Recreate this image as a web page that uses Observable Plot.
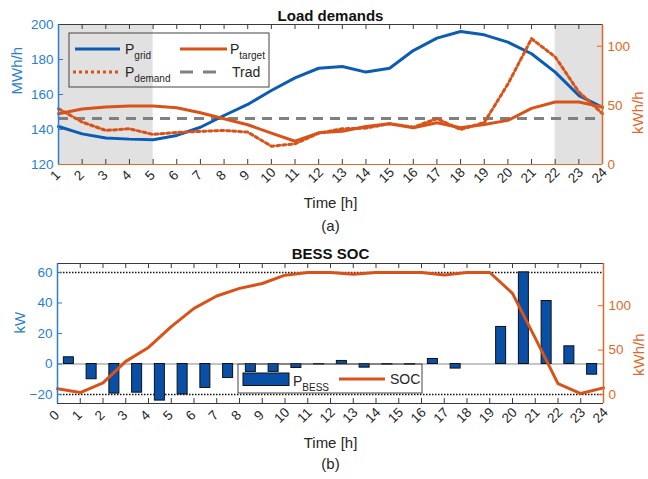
<!DOCTYPE html>
<html><head><meta charset="utf-8">
<script src="https://cdn.jsdelivr.net/npm/d3@7"></script>
<script src="https://cdn.jsdelivr.net/npm/@observablehq/plot@0.6"></script>
<style>
body{margin:0;background:#fff;}
#wrap{position:relative;width:648px;height:479px;overflow:hidden;background:#fff;}
#wrap svg{position:absolute;left:0;overflow:visible;}
</style></head><body><div id="wrap"></div>
<script>
// ---------- Panel (a): Load demands ----------
const hoursA = [1,2,3,4,5,6,7,8,9,10,11,12,13,14,15,16,17,18,19,20,21,22,23,24];
const pGrid = [141.7,137.5,135.2,134.5,134.1,136.6,141.3,148,154.3,162.3,169.5,175,176,172.8,175,185.1,192.2,196,194.1,189.9,183.3,172.8,159.4,152.7]; // MWh/h (left)
const pTarget = [43,46.9,48.6,49.4,49.4,48,43.8,38.7,33.6,26.5,19.7,26.8,28.2,32.2,34.5,31.1,35.3,31.1,33.9,37.3,47.5,52.8,52.8,48.5]; // kWh/h (right)
const pDemand = [47.2,35.9,28.8,30.2,25.4,27.1,28,28.8,27.4,15.5,17.5,26.5,30.2,30.8,34.5,31.6,38.7,29.6,35.5,68,106.4,91,61.3,43]; // kWh/h (right)
const tradLevel = 146.3; // MWh/h
const shadedPeriods = [[1,5],[22,24]];
const leftTicksA = [120,140,160,180,200];
const rightTicksA = [0,50,100];
const leftDomainA = [120,200];
const rightDomainA = [0,118.4];

// ---------- Panel (b): BESS SOC ----------
const hoursB = [0,1,2,3,4,5,6,7,8,9,10,11,12,13,14,15,16,17,18,19,20,21,22,23];
const pBess = [4.4,-10,-19.4,-18.8,-24,-20,-15.7,-9.2,-5.2,-5.2,-2.6,-0.3,2,-2.4,-0.4,-0.4,3.3,-3,0,24.3,60.1,41.3,11.6,-7]; // kW (left)
const socHours = [0,1,2,3,4,5,6,7,8,9,10,11,12,13,14,15,16,17,18,19,20,21,22,23,24];
const soc = [6.4,2.2,13.1,37.3,53,76.5,97,110.9,119.5,125,134.4,137.4,137.4,135.5,137.4,137.4,137.4,134.6,137.4,137.4,113.9,63.5,12.3,1.1,7.5]; // kWh/h (right)
const bessLimits = [60,-20];
const leftTicksB = [-20,0,20,40,60];
const rightTicksB = [0,50,100];
const xTicksB = [0,1,2,3,4,5,6,7,8,9,10,11,12,13,14,15,16,17,18,19,20,21,22,23,24];
const leftDomainB = [-25.9,65.9];
const rightRefB = [0,137.4]; // right values aligned with left -20 and 60

// ---------- styling ----------
const font = '"Liberation Sans", Arial, Helvetica, sans-serif';
const blueLine = "#0c5cb4", barBlue = "#0a4fa6", orange = "#d95319";
const axBlue = "#2a7fd0", axOrange = "#e2672a", tickC = "#3a3a3a", txt = "#262626";

// right -> left axis mapping
const rA = v => leftDomainA[0] + (v - rightDomainA[0]) * (leftDomainA[1]-leftDomainA[0])/(rightDomainA[1]-rightDomainA[0]);
const rAinv = y => rightDomainA[0] + (y - leftDomainA[0]) * (rightDomainA[1]-rightDomainA[0])/(leftDomainA[1]-leftDomainA[0]);
const rB = v => -20 + (v - rightRefB[0]) * 80/(rightRefB[1]-rightRefB[0]);
const rBinv = y => rightRefB[0] + (y + 20) * (rightRefB[1]-rightRefB[0])/80;

const wrap = document.getElementById("wrap");

// ===== Panel A =====
const mA = {top:24, bottom:71, left:58, right:46};
const hA = 235, fhA = hA - mA.top - mA.bottom, fwA = 648 - mA.left - mA.right;
const dataA = hoursA.map((h,i) => ({h, grid:pGrid[i], target:rA(pTarget[i]), demand:rA(pDemand[i])}));

const plotA = Plot.plot({
  width:648, height:hA, marginTop:mA.top, marginBottom:mA.bottom, marginLeft:mA.left, marginRight:mA.right,
  x:{domain:[1,24], axis:null}, y:{domain:leftDomainA, axis:null},
  style:{fontFamily:font, fontSize:"13.5px", overflow:"visible", background:"transparent", color:txt},
  marks:[
    Plot.rect(shadedPeriods, {x1:d=>d[0], x2:d=>d[1], fill:"#e1e1e1"}),
    Plot.ruleY([tradLevel], {stroke:"#808080", strokeWidth:3, strokeDasharray:"10,7"}),
    Plot.line(dataA, {x:"h", y:"grid", stroke:blueLine, strokeWidth:3, curve:"linear"}),
    Plot.line(dataA, {x:"h", y:"target", stroke:orange, strokeWidth:3}),
    Plot.line(dataA, {x:"h", y:"demand", stroke:orange, strokeWidth:3, strokeDasharray:"3,3"}),
    // ticks (inward)
    Plot.tickX(hoursA, {x:d=>d, insetTop:fhA-5, stroke:tickC}),
    Plot.tickX(hoursA, {x:d=>d, insetBottom:fhA-5, stroke:tickC}),
    Plot.tickY(leftTicksA, {y:d=>d, insetRight:fwA-5, stroke:axBlue}),
    Plot.tickY(rightTicksA.map(rA), {y:d=>d, insetLeft:fwA-5, stroke:axOrange}),
    // frame
    Plot.ruleY([leftDomainA[1]], {stroke:tickC}),
    Plot.ruleY([leftDomainA[0]], {stroke:axOrange}),
    Plot.ruleX([1], {stroke:axBlue, strokeWidth:1.5}),
    Plot.ruleX([24], {stroke:axOrange, strokeWidth:1.5}),
    // axes
    Plot.axisY(leftTicksA, {anchor:"left", tickSize:0, tickPadding:5, color:axBlue, label:null}),
    Plot.axisY(rightTicksA.map(rA), {anchor:"right", tickSize:0, tickPadding:5, color:axOrange, label:null, tickFormat:d=>String(Math.round(rAinv(d)))}),
    Plot.text(hoursA, {x:d=>d, frameAnchor:"bottom", dy:14, rotate:-45, text:d=>String(d), fill:txt}),
    Plot.text(["MWh/h"], {frameAnchor:"left", dx:-41, rotate:-90, text:d=>d, fill:axBlue, fontSize:15}),
    Plot.text(["kWh/h"], {frameAnchor:"right", dx:36, dy:-3, rotate:-90, text:d=>d, fill:axOrange, fontSize:15}),
    Plot.text(["Load demands"], {frameAnchor:"top", dy:-14, text:d=>d, fontWeight:"bold", fontSize:15, fill:"#111"}),
    Plot.text(["Time [h]"], {frameAnchor:"bottom", dy:43, text:d=>d, fontSize:15, fill:txt}),
    Plot.text(["(a)"], {frameAnchor:"bottom", dy:66, text:d=>d, fontSize:15, fill:txt})
  ]
});
plotA.style.top = "0px";
wrap.appendChild(plotA);

// legend A
{
  const g = d3.select(plotA).append("g").attr("font-family", font).attr("fill", txt).attr("text-anchor","start");
  g.append("rect").attr("x",69).attr("y",33).attr("width",200).attr("height",54).attr("fill","none").attr("stroke","#444");
  const items = [
    {y:49, x0:75, x1:120, stroke:blueLine, dash:null, tx:125, main:"P", sub:"grid"},
    {y:49, x0:180, x1:227, stroke:orange, dash:null, tx:230, main:"P", sub:"target"},
    {y:72, x0:73, x1:118, stroke:orange, dash:"3,3", tx:125, main:"P", sub:"demand"},
    {y:72, x0:180, x1:217, stroke:"#808080", dash:"13,10", tx:232, main:"Trad", sub:null}
  ];
  for (const it of items) {
    g.append("line").attr("x1",it.x0).attr("x2",it.x1).attr("y1",it.y).attr("y2",it.y)
      .attr("stroke",it.stroke).attr("stroke-width",3).attr("stroke-dasharray",it.dash);
    const t = g.append("text").attr("x",it.tx).attr("y",it.y+4.5).attr("font-size",14).attr("text-anchor","start");
    t.append("tspan").text(it.main);
    if (it.sub) t.append("tspan").attr("dy",5).attr("font-size",10).text(it.sub);
  }
}

// ===== Panel B =====
const topB = 235;
const mB = {top:28, bottom:76, left:57, right:45};
const hB = 479 - topB, fhB = hB - mB.top - mB.bottom, fwB = 648 - mB.left - mB.right;
const barsB = hoursB.map((h,i) => ({h, v:pBess[i]}));
const socData = socHours.map((h,i) => ({h, s:rB(soc[i])}));

const plotB = Plot.plot({
  width:648, height:hB, marginTop:mB.top, marginBottom:mB.bottom, marginLeft:mB.left, marginRight:mB.right,
  x:{domain:[0,24], axis:null}, y:{domain:leftDomainB, axis:null},
  style:{fontFamily:font, fontSize:"13.5px", overflow:"visible", background:"transparent", color:txt},
  marks:[
    Plot.ruleY([0], {stroke:"#8a8a8a", strokeWidth:1.2}),
    Plot.ruleY(bessLimits, {stroke:"#111", strokeWidth:1.3, strokeDasharray:"1.5,1.5"}),
    Plot.rectY(barsB, {x1:d=>d.h+0.28, x2:d=>d.h+0.72, y1:0, y2:"v", fill:barBlue, stroke:"#111", strokeWidth:1}),
    Plot.line(socData, {x:"h", y:"s", stroke:orange, strokeWidth:3}),
    Plot.tickX(xTicksB, {x:d=>d, insetTop:fhB-5, stroke:tickC}),
    Plot.tickX(xTicksB, {x:d=>d, insetBottom:fhB-5, stroke:tickC}),
    Plot.tickY(leftTicksB, {y:d=>d, insetRight:fwB-5, stroke:axBlue}),
    Plot.tickY(rightTicksB.map(rB), {y:d=>d, insetLeft:fwB-5, stroke:axOrange}),
    Plot.ruleY([leftDomainB[1]], {stroke:tickC}),
    Plot.ruleY([leftDomainB[0]], {stroke:tickC}),
    Plot.ruleX([0], {stroke:axBlue, strokeWidth:1.5}),
    Plot.ruleX([24], {stroke:axOrange, strokeWidth:1.5}),
    Plot.axisY(leftTicksB, {anchor:"left", tickSize:0, tickPadding:5, color:axBlue, label:null}),
    Plot.axisY(rightTicksB.map(rB), {anchor:"right", tickSize:0, tickPadding:5, color:axOrange, label:null, tickFormat:d=>String(Math.round(rBinv(d)))}),
    Plot.text(xTicksB, {x:d=>d, frameAnchor:"bottom", dy:15, rotate:-45, text:d=>String(d), fill:txt}),
    Plot.text(["kW"], {frameAnchor:"left", dx:-37, rotate:-90, text:d=>d, fill:axBlue, fontSize:15}),
    Plot.text(["kWh/h"], {frameAnchor:"right", dx:36, rotate:-90, text:d=>d, fill:axOrange, fontSize:15}),
    Plot.text(["BESS SOC"], {frameAnchor:"top", dy:-15, text:d=>d, fontWeight:"bold", fontSize:15, fill:"#111"}),
    Plot.text(["Time [h]"], {frameAnchor:"bottom", dy:44, text:d=>d, fontSize:15, fill:txt}),
    Plot.text(["(b)"], {frameAnchor:"bottom", dy:65, text:d=>d, fontSize:15, fill:txt})
  ]
});
plotB.style.top = topB + "px";
wrap.appendChild(plotB);

// legend B
{
  const g = d3.select(plotB).append("g").attr("font-family", font).attr("fill", txt).attr("text-anchor","start");
  const oy = -topB;
  g.append("rect").attr("x",238).attr("y",364+oy).attr("width",184).attr("height",29).attr("fill","none").attr("stroke","#444");
  g.append("rect").attr("x",243).attr("y",373+oy).attr("width",46).attr("height",12.5).attr("fill",barBlue).attr("stroke","#111");
  const t = g.append("text").attr("x",293).attr("y",386+oy).attr("font-size",14).attr("text-anchor","start");
  t.append("tspan").text("P");
  t.append("tspan").attr("dy",5).attr("font-size",10).text("BESS");
  g.append("line").attr("x1",339).attr("x2",385).attr("y1",379+oy).attr("y2",379+oy).attr("stroke",orange).attr("stroke-width",3);
  g.append("text").attr("x",390).attr("y",384+oy).attr("font-size",14).attr("text-anchor","start").text("SOC");
}
</script>
</body></html>
